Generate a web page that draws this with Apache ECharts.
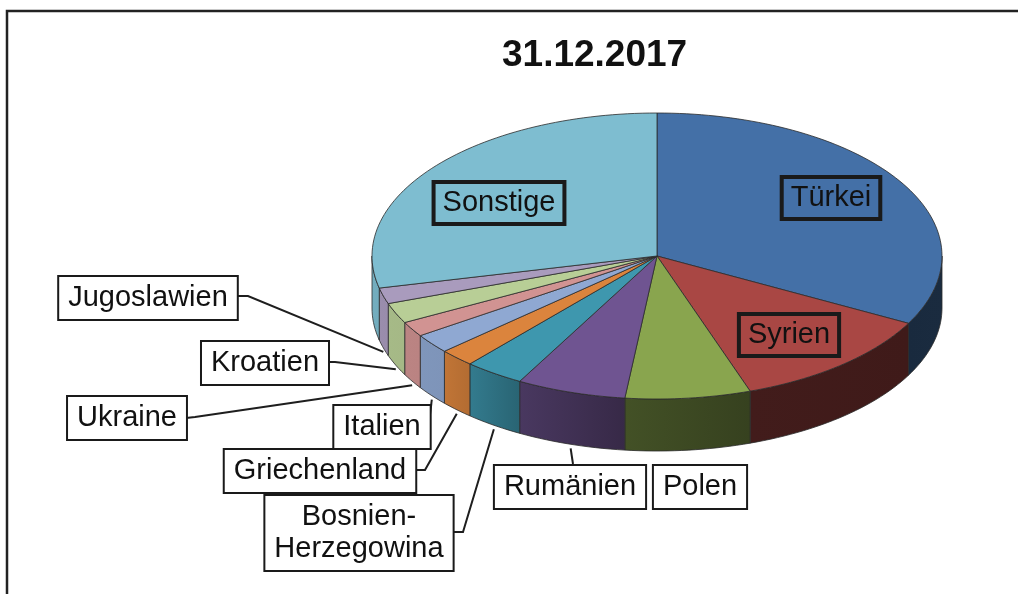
<!DOCTYPE html>
<html>
<head>
<meta charset="utf-8">
<script src="https://cdn.jsdelivr.net/npm/echarts@6/dist/echarts.min.js"></script>
<style>
  html, body { margin: 0; padding: 0; background: #fff; }
  #chart { width: 1018px; height: 594px; }
</style>
</head>
<body>
<div id="chart"></div>
<script>
  // Ausländische Bevölkerung nach Staatsangehörigkeit, Anteile in %
  const countries = ['Türkei', 'Syrien', 'Polen', 'Rumänien', 'Bosnien-\nHerzegowina', 'Griechenland',
                     'Italien', 'Ukraine', 'Kroatien', 'Jugoslawien', 'Sonstige'];
  const shares = [32.8, 11.9, 7.1, 6.2, 3.4, 2.0, 2.2, 1.7, 2.3, 1.8, 28.6];
  const titleText = '31.12.2017';

  const colors = ['#4470a7', '#a94744', '#89a54e', '#6f5491', '#3e97ae', '#db843d',
                  '#8fa8d2', '#d19392', '#b8ce96', '#a99bbd', '#7ebdd0'];

  // layout of the tilted pie (pixels)
  const cx = 657, cy = 256, rx = 285, ry = 143, depth = 52;

  // label boxes + leader line starts
  const labelPos = [[831, 198], [789, 335], [700, 487], [570, 487], [359, 533], [320, 471],
                    [382, 427], [127, 418], [265, 363], [148, 298], [499, 203]];
  const insideLabel = [true, true, false, false, false, false, false, false, false, false, true];
  const leaderStart = [null, null, null,
                       [[573, 464]],
                       [[453, 532], [463, 532]],
                       [[416, 470], [425, 470]],
                       [[429, 423]],
                       [[186, 418], [195, 417]],
                       [[328, 362], [335, 362]],
                       [[237, 296], [248, 296]],
                       null];

  const total = shares.reduce((a, b) => a + b, 0);
  const startAngle = [];
  let acc = -90;
  shares.forEach(v => { startAngle.push(acc); acc += v / total * 360; });

  const rad = d => d * Math.PI / 180;
  const px = (a, dy) => [cx + rx * Math.cos(rad(a)), cy + ry * Math.sin(rad(a)) + (dy || 0)];

  // side shading by angle (lighter to the left)
  const shadeA = [0, 60, 90, 110, 125, 135, 180];
  const shadeF = [0.38, 0.36, 0.45, 0.58, 0.72, 0.88, 0.92];
  function shadeAt(a) {
    for (let i = 1; i < shadeA.length; i++) {
      if (a <= shadeA[i]) {
        const t = (a - shadeA[i - 1]) / (shadeA[i] - shadeA[i - 1]);
        return shadeF[i - 1] + t * (shadeF[i] - shadeF[i - 1]);
      }
    }
    return shadeF[shadeF.length - 1];
  }
  function darken(hex, f) {
    const n = parseInt(hex.slice(1), 16);
    const r = Math.round(((n >> 16) & 255) * f), g = Math.round(((n >> 8) & 255) * f), b = Math.round((n & 255) * f);
    return 'rgb(' + r + ',' + g + ',' + b + ')';
  }

  function renderItem(params, api) {
    const i = params.dataIndex;
    const a0 = startAngle[i];
    const a1 = a0 + api.value(0) / total * 360;
    const children = [];

    // top face
    const top = [[cx, cy]];
    const steps = Math.max(4, Math.ceil((a1 - a0) / 1.5));
    for (let s = 0; s <= steps; s++) top.push(px(a0 + (a1 - a0) * s / steps));
    children.push({
      type: 'polygon', z2: 10,
      shape: { points: top },
      style: { fill: colors[i], stroke: '#2b2b2b', lineWidth: 0.8 }
    });

    // outer wall (front half only)
    const s0 = Math.max(a0, 0), s1 = Math.min(a1, 180);
    if (s1 > s0) {
      const n = Math.max(3, Math.ceil((s1 - s0) / 1.5));
      const wall = [];
      for (let s = 0; s <= n; s++) wall.push(px(s0 + (s1 - s0) * s / n));
      for (let s = n; s >= 0; s--) wall.push(px(s0 + (s1 - s0) * s / n, depth));
      children.push({
        type: 'polygon', z2: 5,
        shape: { points: wall },
        style: {
          fill: new echarts.graphic.LinearGradient(0, 0, 1, 0, [
            { offset: 0, color: darken(colors[i], shadeAt(s1)) },
            { offset: 1, color: darken(colors[i], shadeAt(s0)) }
          ]),
          stroke: '#2b2b2b', lineWidth: 0.8
        }
      });
    }

    // leader line to the bottom of the wall
    if (leaderStart[i]) {
      const mid = (a0 + a1) / 2;
      const pts = leaderStart[i].concat([px(mid, depth + 4)]);
      children.push({
        type: 'polyline', z2: 50,
        shape: { points: pts },
        style: { stroke: '#1e1e1e', lineWidth: 2, fill: null }
      });
    }

    // label box
    children.push({
      type: 'text', z2: 60,
      x: labelPos[i][0], y: labelPos[i][1],
      style: {
        text: countries[i],
        fontFamily: 'Liberation Sans, Arial, sans-serif',
        fontSize: 29,
        lineHeight: 32,
        fill: '#111',
        align: 'center',
        verticalAlign: 'middle',
        backgroundColor: insideLabel[i] ? 'transparent' : '#fff',
        borderColor: '#1a1a1a',
        borderWidth: 2,
        padding: [5, 9]
      }
    });

    return { type: 'group', children: children };
  }

  const chart = echarts.init(document.getElementById('chart'), null, { renderer: 'canvas' });
  chart.setOption({
    animation: false,
    backgroundColor: '#fff',
    title: {
      text: titleText,
      left: 497,
      top: 32,
      textStyle: { fontFamily: 'Liberation Sans, Arial, sans-serif', fontSize: 37, fontWeight: 'bold', color: '#111' }
    },
    graphic: [{
      type: 'polyline',
      shape: { points: [[7, 594], [7, 11], [1018, 11]] },
      style: { stroke: '#222', lineWidth: 2.5, fill: null }
    }],
    series: [{
      type: 'custom',
      coordinateSystem: 'none',
      renderItem: renderItem,
      data: shares
    }]
  });
</script>
</body>
</html>
